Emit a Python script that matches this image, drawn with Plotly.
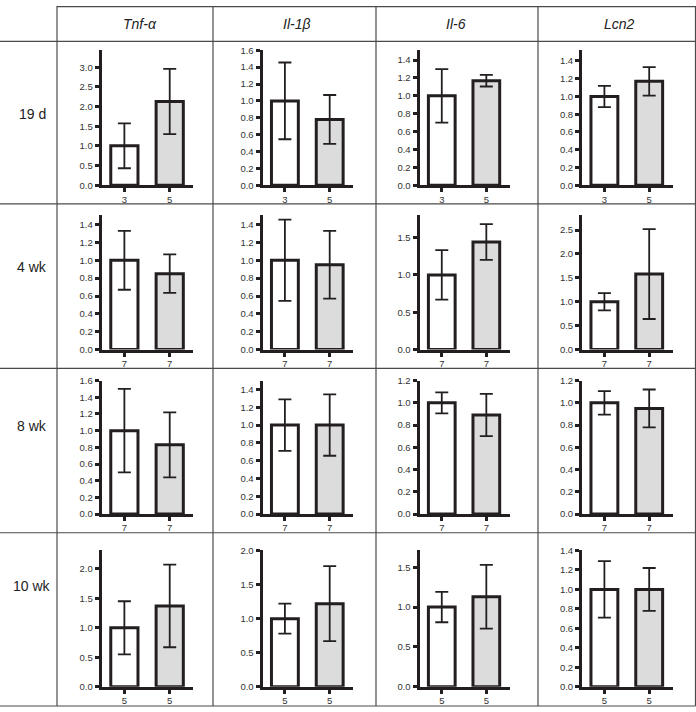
import plotly.graph_objects as go

# ---------------- data ----------------
genes = ["Tnf-α", "Il-1β", "Il-6", "Lcn2"]
ages = ["19 d", "4 wk", "8 wk", "10 wk"]
n_labels = [["3", "5"], ["7", "7"], ["7", "7"], ["5", "5"]]

# mean values [control, mutant] per age (rows) and gene (columns)
means_19d = [[1.0, 2.13], [1.0, 0.78], [1.0, 1.17], [1.0, 1.17]]
means_4wk = [[1.0, 0.85], [1.0, 0.95], [1.0, 1.44], [1.0, 1.58]]
means_8wk = [[1.0, 0.83], [1.0, 1.00], [1.0, 0.89], [1.0, 0.95]]
means_10wk = [[1.0, 1.37], [1.0, 1.22], [1.0, 1.13], [1.0, 1.00]]

errs_19d = [[0.57, 0.83], [0.455, 0.29], [0.30, 0.065], [0.12, 0.16]]
errs_4wk = [[0.33, 0.215], [0.455, 0.38], [0.33, 0.24], [0.18, 0.94]]
errs_8wk = [[0.50, 0.39], [0.29, 0.345], [0.095, 0.19], [0.105, 0.17]]
errs_10wk = [[0.45, 0.70], [0.22, 0.55], [0.19, 0.40], [0.29, 0.22]]

means = [means_19d, means_4wk, means_8wk, means_10wk]
errs = [errs_19d, errs_4wk, errs_8wk, errs_10wk]

# axis maxima and tick steps
ymax = [[3.43, 1.6, 1.51, 1.52],
        [1.51, 1.51, 1.805, 2.82],
        [1.6, 1.5, 1.2, 1.2],
        [2.31, 2.0, 1.71, 1.4]]
ystep = [[0.5, 0.2, 0.2, 0.2],
         [0.2, 0.2, 0.5, 0.5],
         [0.2, 0.2, 0.2, 0.2],
         [0.5, 0.5, 0.5, 0.2]]

# ---------------- layout geometry (pixels) ----------------
W, H = 696, 712
col_px = [(101.7, 193.3), (262.5, 353.0), (419.5, 509.5), (582.0, 672.5)]
row_px = [(45.0, 182.0), (212.0, 349.0), (380.5, 516.0), (553.0, 691.5)]
grid_x = [57, 213, 376, 538, 695.5]
grid_y = [36, 201, 368, 535, 711]
header_x = [140, 296.5, 456.5, 619]
row_label_y = [110, 265, 427, 589]

def px(x):
    return x / W

def py(y):
    return 1 - y / H

INK = "#231f20"
FILLS = ["#ffffff", "#dcdcdc"]
FONT = "Liberation Sans, Arial, sans-serif"

fig = go.Figure()
layout = dict(width=W, height=H, margin=dict(l=0, r=0, t=0, b=0),
              paper_bgcolor="white", plot_bgcolor="white",
              showlegend=False, font=dict(family=FONT, color="#333"))

k = 0
for r in range(4):
    for c in range(4):
        k += 1
        xa = "x" if k == 1 else f"x{k}"
        ya = "y" if k == 1 else f"y{k}"
        fig.add_trace(go.Bar(
            x=[0, 1], y=means[r][c],
            xaxis=xa, yaxis=ya, width=0.6,
            marker=dict(color=FILLS, line=dict(color=INK, width=3)),
            error_y=dict(type="data", array=errs[r][c], visible=True,
                         color=INK, thickness=1.8, width=6.5),
            hoverinfo="skip"))
        xname = "xaxis" if k == 1 else f"xaxis{k}"
        yname = "yaxis" if k == 1 else f"yaxis{k}"
        x0, x1 = col_px[c]
        y0, y1 = row_px[r]
        layout[xname] = dict(
            domain=[px(x0), px(x1)], anchor=ya, range=[-0.5, 1.52],
            tickvals=[0, 1], ticktext=n_labels[r], showline=True,
            linecolor=INK, linewidth=3, ticks="outside", ticklen=4,
            tickwidth=2.5, tickcolor=INK, showgrid=False, zeroline=False,
            ticklabelstandoff=-1,
            tickfont=dict(size=9.5, color="#333", family=FONT), fixedrange=True)
        layout[yname] = dict(
            domain=[py(y1), py(y0)], anchor=xa,
            range=[0, ymax[r][c] + 1e-6], dtick=ystep[r][c], tick0=0,
            tickformat=".1f", showline=True, linecolor=INK, linewidth=3,
            ticks="outside", ticklen=4, tickwidth=2.5, tickcolor=INK,
            showgrid=False, zeroline=False,
            tickfont=dict(size=9.5, color="#333", family=FONT), fixedrange=True)

shapes = []
GRID = dict(color="#4a4a4a", width=1.2)
# top border only above gene headers
shapes.append(dict(type="line", xref="paper", yref="paper",
                   x0=px(grid_x[0]), x1=px(grid_x[-1]), y0=py(0.6), y1=py(0.6), line=GRID))
for gy in grid_y:
    shapes.append(dict(type="line", xref="paper", yref="paper",
                       x0=0, x1=px(grid_x[-1]), y0=py(gy), y1=py(gy), line=GRID))
for gx in grid_x:
    shapes.append(dict(type="line", xref="paper", yref="paper",
                       x0=px(gx), x1=px(gx), y0=py(0), y1=py(grid_y[-1]), line=GRID))
layout["shapes"] = shapes

ann = []
for c, g in enumerate(genes):
    ann.append(dict(text=f"<i>{g}</i>", x=px(header_x[c]), y=py(18.5),
                    xref="paper", yref="paper", showarrow=False,
                    xanchor="center", yanchor="middle",
                    font=dict(size=14, color="#222", family=FONT)))
for r, a in enumerate(ages):
    ann.append(dict(text=a, x=px(32), y=py(row_label_y[r]),
                    xref="paper", yref="paper", showarrow=False,
                    xanchor="center", yanchor="middle",
                    font=dict(size=14, color="#222", family=FONT)))
layout["annotations"] = ann

fig.update_layout(**layout)

pin = ("document.body.style.margin='0';document.body.style.overflow='hidden';"
       "var d=document.getElementById('{plot_id}');"
       "d.style.position='fixed';d.style.left='0px';d.style.top='0px';")
fig.write_html("out.html", post_script=pin, config={"displayModeBar": False})
